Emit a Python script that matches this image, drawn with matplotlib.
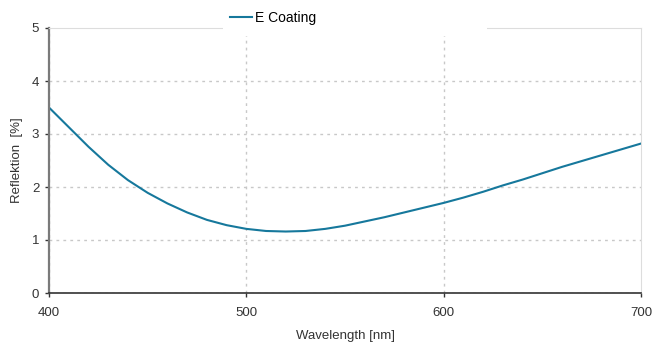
import matplotlib.pyplot as plt
from matplotlib.patches import Rectangle

plt.rcParams['font.family'] = ['Liberation Sans', 'DejaVu Sans']

wavelength = [400, 410, 420, 430, 440, 450, 460, 470, 480, 490, 500,
              510, 520, 530, 540, 550, 560, 570, 580, 590, 600,
              610, 620, 630, 640, 650, 660, 670, 680, 690, 700]
reflektion = [3.50, 3.13, 2.76, 2.42, 2.13, 1.89, 1.69, 1.52, 1.38, 1.28, 1.21,
              1.17, 1.16, 1.17, 1.21, 1.27, 1.35, 1.43, 1.52, 1.61, 1.70,
              1.80, 1.91, 2.03, 2.14, 2.26, 2.38, 2.49, 2.60, 2.71, 2.82]
series_name = 'E Coating'
x_ticks = [400, 500, 600, 700]
y_ticks = [0, 1, 2, 3, 4, 5]

fig = plt.figure(figsize=(6.52, 3.44), dpi=100)
ax = fig.add_axes([49/652, 1-293/344, 592/652, 265/344])

line, = ax.plot(wavelength, reflektion, color='#16789c', lw=1.5, label=series_name)

ax.set_xlim(400, 700)
ax.set_ylim(0, 5)
ax.set_xticks(x_ticks)
ax.set_yticks(y_ticks)
ax.grid(True, color='#c8c8c8', ls=(0, (2, 3)), lw=1)
ax.set_axisbelow(True)
# no dashed grid on the outer border lines
ax.get_xgridlines()[-1].set_visible(False)
ax.get_ygridlines()[-1].set_visible(False)

ax.spines['left'].set_color('#7a7a7a')
ax.spines['left'].set_linewidth(1.6)
ax.spines['bottom'].set_color('#333333')
ax.spines['bottom'].set_linewidth(1.2)
ax.spines['top'].set_color('#dddddd')
ax.spines['right'].set_color('#dddddd')
ax.tick_params(axis='both', labelsize=9.5, colors='#333333', length=3, width=1)
ax.tick_params(axis='x', pad=7)
ax.tick_params(axis='y', pad=4)

ax.set_xlabel('Wavelength [nm]', fontsize=9.5, color='#333333', labelpad=8)
ax.set_ylabel('Reflektion  [%]', fontsize=9.5, color='#333333', labelpad=6)

# white box behind the legend, covering the top border
fig.patches.append(Rectangle((223/652, 1-36/344), 264/652, 36/344,
                             transform=fig.transFigure, facecolor='white',
                             edgecolor='none', zorder=2))
fig.legend(handles=[line], loc='center left', bbox_to_anchor=(223/652, 1-18/344),
           frameon=False, fontsize=10, handlelength=1.6, handletextpad=0.2,
           borderpad=0)

fig.savefig('out.png', dpi=100)
